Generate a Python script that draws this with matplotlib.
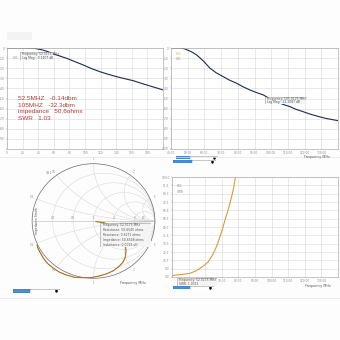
import numpy as np
import matplotlib
matplotlib.use("Agg")
import matplotlib.pyplot as plt
from matplotlib.patches import Circle, Rectangle

# S21 log magnitude, wide sweep (top left)
tl_freq = [0, 20, 35, 45, 52, 59.4, 68, 76.5, 87, 97.8, 108, 119.2, 130, 140.6, 151, 162,
           172, 183.3, 192, 200.4]
tl_db = [0, 0, -0.3, -1.8, -3.5, -5.9, -8, -10.2, -13.5, -16.8, -20.3, -23.5, -26.1, -28.4,
         -30.4, -32.4, -34.9, -37.6, -39.6, -41.6]

# S21 log magnitude, zoomed sweep (top right)
tr_freq = [40, 46, 48.4, 52, 55.4, 59.5, 63.4, 67, 71.3, 75, 79.3, 83, 87.3, 91, 95.3, 99,
           103.3, 107, 111.3, 115, 119.2, 123, 127.2, 133, 140.2]
tr_db = [0, 0, -1, -3.5, -6.9, -13, -20.1, -24.5, -28.4, -31.8, -34.9, -38.3, -41.6, -44,
         -46.5, -50, -53.2, -55.8, -58.1, -60.8, -63.1, -65.3, -67.3, -69.8, -72.0]

# S11 reflection coefficient (Smith chart, bottom left)
s11_re = [0.04, 0.17, 0.28, 0.37, 0.44, 0.50, 0.52, 0.53, 0.52, 0.48, 0.41, 0.32, 0.22, 0.09,
          -0.05, -0.19, -0.32, -0.45, -0.56, -0.66, -0.75, -0.81, -0.86, -0.90, -0.92]
s11_im = [-0.01, -0.03, -0.07, -0.13, -0.22, -0.31, -0.42, -0.52, -0.63, -0.72, -0.80, -0.87,
          -0.92, -0.96, -0.99, -0.99, -0.98, -0.94, -0.89, -0.82, -0.74, -0.66, -0.57, -0.49,
          -0.42]

# SWR vs frequency (bottom right)
swr_freq = [40, 42.8, 46.5, 50.8, 54, 56.9, 59.5, 61.9, 64, 65.9, 67.5, 68.9, 70.5, 71.9, 73.5,
            74.9, 76.9, 78.6]
swr_val = [1.5, 2, 2.6, 3.7, 5.8, 8.7, 11.8, 15.3, 20.8, 27, 33.5, 40.3, 48.5, 57, 65.5, 73.7,
           87, 104]

notes = ["52.5MHZ   -0.14dbm", "105MHZ   -32.3dbm", "impedance   50.6ohms", "SWR   1.03"]

GRID = "#d9d9d9"
TICK = "#8a8a8a"
NAVY = "#1f2a4a"
ORANGE = "#d79a3a"


def rect(l, t, r, b):
    return [l / 340, 1 - b / 340, (r - l) / 340, (b - t) / 340]


def style_axes(ax, xticks, yticks, xfmt="{:.0f}", yfmt="{:.0f}", skip_x=(), skip_y=()):
    ax.set_xticks(xticks)
    ax.set_yticks(yticks)
    ax.set_xticklabels(["" if i in skip_x else xfmt.format(v) for i, v in enumerate(xticks)])
    ax.set_yticklabels(["" if i in skip_y else yfmt.format(v) for i, v in enumerate(yticks)])
    ax.tick_params(labelsize=2.1, colors=TICK, length=1, width=0.3, pad=0.8)
    ax.grid(True, color=GRID, lw=0.4)
    for s in ax.spines.values():
        s.set_color("#b0b0b0")
        s.set_linewidth(0.5)
    ax.set_facecolor("white")


def marker_box(fig, l, t, r, b, lines):
    box = fig.add_axes(rect(l, t, r, b))
    box.set_xlim(0, 1)
    box.set_ylim(0, 1)
    box.axis("off")
    box.add_patch(Rectangle((0, 0), 1, 1, fc="#f4f4f4", ec="#9a9a9a", lw=0.4))
    n = len(lines)
    for i, s in enumerate(lines):
        box.text(0.05, 1 - (i + 0.5) / n, s, fontsize=2.2, color="#555555", va="center")


def button(fig, l, t, r, b, w2=None):
    ax = fig.add_axes(rect(l, t, w2 if w2 else r, b))
    ax.axis("off")
    ax.set_xlim(l, w2 if w2 else r)
    ax.set_ylim(0, 1)
    if w2:
        ax.add_patch(Rectangle((l, 0), w2 - l, 1, fc="white", ec="#9a9a9a", lw=0.4))
        ax.plot([w2 - 4], [0.5], marker="v", ms=1.2, color="black")
    ax.add_patch(Rectangle((l, 0), r - l, 1, fc="#4a8fd0", ec="#2f6fb0", lw=0.3))


fig = plt.figure(figsize=(3.4, 3.4), dpi=100)
fig.patch.set_facecolor("#fdfdfd")

# faint toolbar stub at the top
fig.add_artist(Rectangle((7 / 340, 1 - 40 / 340), 25 / 340, 8 / 340,
                         transform=fig.transFigure, fc="#f3f3f3", ec="none"))

# top left panel
ax1 = fig.add_axes(rect(7, 48, 163, 149))
ax1.plot(tl_freq, tl_db, color=NAVY, lw=0.8)
ax1.set_xlim(0, 200)
ax1.set_ylim(-100, 0)
style_axes(ax1, np.arange(0, 201, 20), np.arange(-100, 1, 10), skip_x=(10,), skip_y=(0,))
for i, s in enumerate(notes):
    ax1.text(0.07, 0.5 - i * 0.065, s, transform=ax1.transAxes, fontsize=4.6,
             color="#b23a3a", family="Liberation Sans", va="center")
ax1.text(0.04, 0.89, "S21", transform=ax1.transAxes, fontsize=2.2, color=TICK)
marker_box(fig, 20, 52, 53, 60, ["Frequency: 52.5175 MHz", "Log Mag: -0.1407 dB"])

# top right panel
ax2 = fig.add_axes(rect(171, 48, 338, 149))
ax2.plot(tr_freq, tr_db, color=NAVY, lw=0.8)
ax2.set_xlim(40, 140)
ax2.set_ylim(-100, 0)
style_axes(ax2, np.arange(40, 141, 10), np.arange(-100, 1, 10), xfmt="{:.2f}", skip_x=(10,))
ax2.text(0.03, 0.93, "S11", transform=ax2.transAxes, fontsize=2.2, color="#c8b070")
ax2.text(0.03, 0.88, "S21", transform=ax2.transAxes, fontsize=2.2, color=TICK)
marker_box(fig, 265, 97, 307, 104, ["Frequency: 105.0125 MHz", "Log Mag: -32.3087 dB"])
fig.text(317 / 340, 1 - 158 / 340, "Frequency MHz", fontsize=2.4, color="#555555", ha="center")
button(fig, 176, 156, 190, 159, 218)

# bottom left panel: Smith chart
ax3 = fig.add_axes(rect(26, 158, 161, 284))
ax3.set_xlim(-1.1, 1.1)
ax3.set_ylim(-1.1, 1.1)
ax3.axis("off")
unit = Circle((0, 0), 1, transform=ax3.transData)
for r in [0.2, 0.5, 1, 2, 5]:
    ax3.add_patch(Circle((r / (1 + r), 0), 1 / (1 + r), fill=False, ec=GRID, lw=0.4))
for x in [0.2, 0.5, 1, 2, 5]:
    for sgn in (1, -1):
        c = Circle((1, sgn / x), 1 / x, fill=False, ec=GRID, lw=0.4)
        ax3.add_patch(c)
        c.set_clip_path(unit)
ax3.plot([-1, 1], [0, 0], color="#b8b8b8", lw=0.4)
ax3.add_patch(Circle((0, 0), 1, fill=False, ec="#6a6a6a", lw=0.5))
for r in [0.2, 0.5, 1, 2, 5, 10]:
    ax3.text((r - 1) / (r + 1), 0.03, f"{r:g}", fontsize=2, color=TICK, ha="center")
for x in [0.2, 0.5, 1, 2, 5]:
    g = complex(0, x)
    gam = (g - 1) / (g + 1)
    for sgn in (1, -1):
        ax3.text(gam.real * 1.08, sgn * gam.imag * 1.08, f"{x:g}", fontsize=2, color=TICK,
                 ha="center", va="center")
ax3.plot(s11_re, s11_im, color=ORANGE, lw=0.9)
ax3.plot(s11_re, s11_im, color="#6b4a2a", lw=0.3)
ax3.text(-0.78, 0.82, "S11", fontsize=2.4, color=TICK)
ax3.text(-0.92, 0.0, "Impedance Smith", fontsize=2.2, color="#555555", rotation=90,
         ha="center", va="center")
fig.text(133 / 340, 1 - 284 / 340, "Frequency MHz", fontsize=2.4, color="#555555", ha="center")
marker_box(fig, 100, 223, 151, 247, ["Frequency: 52.5175 MHz", "Resistance: 50.6545 ohms",
                                      "Reactance: 0.6271 ohms", "Impedance: 50.6548 ohms",
                                      "Inductance: 0.0019 uH"])
button(fig, 13, 289, 30, 293, 60)

# bottom right panel
ax4 = fig.add_axes(rect(172, 177, 338, 277))
ax4.plot(swr_freq, swr_val, color=ORANGE, lw=0.8)
ax4.set_xlim(40, 140)
ax4.set_ylim(0, 100)
style_axes(ax4, np.arange(40, 141, 10), np.arange(0, 101, 8.33), xfmt="{:.2f}", yfmt="{:.1f}",
           skip_x=(0, 1, 2, 10))
ax4.text(0.03, 0.9, "S11", transform=ax4.transAxes, fontsize=2.2, color=TICK)
ax4.text(0.03, 0.84, "SWR", transform=ax4.transAxes, fontsize=2.2, color=TICK)
marker_box(fig, 177, 278, 217, 286, ["Frequency: 52.5175 MHz", "SWR: 1.0313"])
fig.text(318 / 340, 1 - 287 / 340, "Frequency MHz", fontsize=2.4, color="#555555", ha="center")
button(fig, 173, 160, 192, 163, 216)
button(fig, 173, 286, 190, 289, 214)

# faint separators between panels
fig.add_artist(plt.Line2D([0, 1], [1 - 157 / 340] * 2, color="#e6e6e6", lw=0.5))
fig.add_artist(plt.Line2D([0, 1], [1 - 298 / 340] * 2, color="#e6e6e6", lw=0.5))

fig.savefig("out.png", dpi=100, facecolor=fig.get_facecolor())
